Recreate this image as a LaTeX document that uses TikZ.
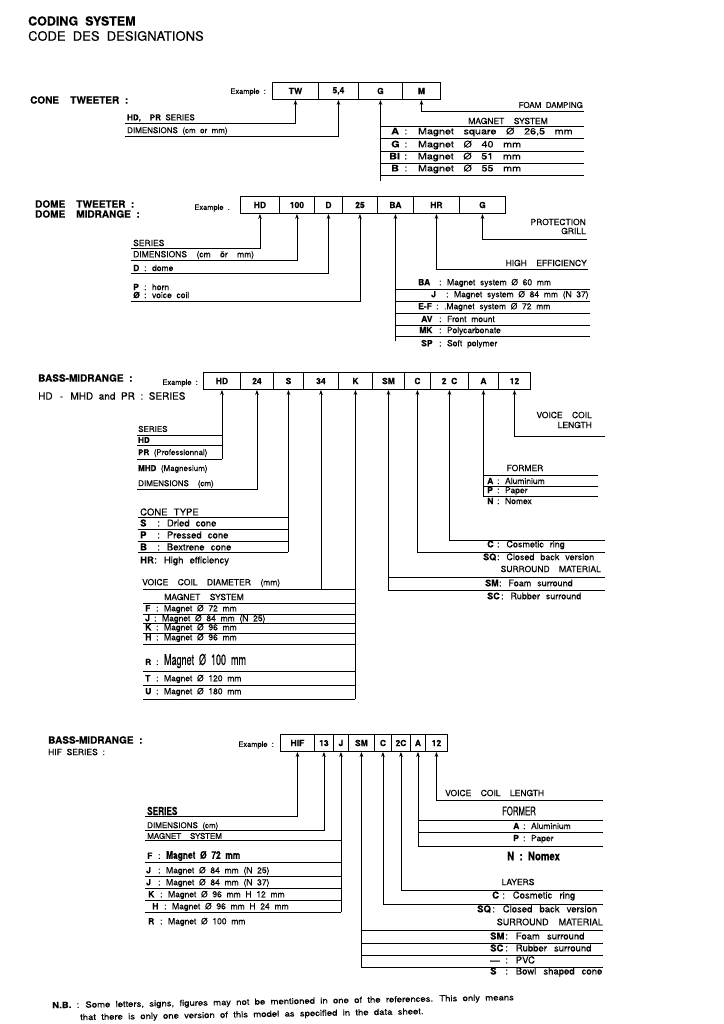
\documentclass[tikz,border=0pt]{standalone}
\usepackage{fontspec}
\setmainfont{TeX Gyre Heros}[WordSpace=2,FakeBold=0.3]
\usetikzlibrary{arrows.meta}
\newcommand{\cb}[1]{\textbf{#1}}
\newcommand{\cnd}[2][0.6]{\scalebox{#1}[1]{#2}}
\newcommand{\rw}[3][12pt]{\makebox[#1][l]{\cb{#2}}: #3}
\newcommand{\wde}[2][1.2]{\scalebox{#1}[1]{#2}}
\begin{document}
\begin{tikzpicture}[x=1pt,y=-1pt,
 every node/.style={inner sep=0pt},
 lbl/.style={anchor=west,font=\fontsize{8.5}{9}\selectfont},
 lblr/.style={anchor=east,font=\fontsize{8.5}{9}\selectfont},
 ctab/.style={anchor=west,font=\fontsize{9}{10}\selectfont,execute at begin node={\spaceskip=8pt\relax}},
 dtab/.style={anchor=west,font=\fontsize{8.5}{9}\selectfont,execute at begin node={\spaceskip=4.7pt\relax}},
 btab/.style={anchor=west,font=\fontsize{9.5}{10}\selectfont,execute at begin node={\spaceskip=6.2pt\relax}},
 stab/.style={anchor=west,font=\fontsize{9}{10}\selectfont,execute at begin node={\spaceskip=5.9pt\relax}},
 rtab/.style={anchor=west,font=\fontsize{9.5}{10}\selectfont,execute at begin node={\spaceskip=7.1pt\relax}},
 hdg/.style={anchor=west,font=\bfseries\fontsize{10}{11}\selectfont},
 sub/.style={anchor=west,font=\fontsize{10}{11}\selectfont},
 ttl/.style={anchor=west,font=\fontsize{13}{13}\selectfont},
 ex/.style={anchor=east,font=\fontsize{7.5}{8}\selectfont},
 bx/.style={draw,line width=0.9pt,anchor=west,minimum height=17pt,font=\bfseries\fontsize{8.5}{9}\selectfont},
 ar/.style={line width=0.75pt,-{Stealth[length=5pt,width=3.6pt]}},
 rl/.style={line width=0.75pt}]
\fill[white] (0,0) rectangle (723,1024);
\useasboundingbox (0,0) rectangle (723,1024);

% ===== TITLE
\node[ttl,font=\bfseries\fontsize{12.5}{13}\selectfont] (t1) at (28,21) {CODING SYSTEM};
\node[ttl] (t2) at (28,36) {CODE DES DESIGNATIONS};

% ===== CONE TWEETER
\node[hdg] (ct) at (30,100) {CONE \ TWEETER :};
\node[ex] (ctex) at (266,92) {Example :};
\node[bx,minimum width=46pt] (tw) at (272,91) {TW};
\node[bx,minimum width=40pt] (c54) at (318,91) {5,4};
\node[bx,minimum width=44pt] (cg) at (358,91) {G};
\node[bx,minimum width=38pt] (cm) at (402,91) {M};
\node[lbl,font=\fontsize{8}{9}\selectfont] (hdpr) at (127,118) {\cb{HD, \ PR} SERIES};
\node[lbl,font=\fontsize{8}{9}\selectfont] (cdim) at (127,131) {DIMENSIONS (cm or mm)};
\coordinate (ka) at (125,123);
\coordinate (kb) at (125,136);
\draw[ar] (ka) -| (tw.south);
\draw[ar] (kb) -| (c54.south);
\node[lblr,font=\fontsize{8}{9}\selectfont] (foam) at (583,105) {FOAM DAMPING};
\coordinate (kc) at (584,111);
\draw[ar] (kc) -| (cm.south);
\node[lbl,anchor=center] (cms) at (508,121) {MAGNET \ SYSTEM};
\node[ctab] (ca) at (391,132) {\wde{\rw[11pt]{A}{Magnet square Ø 26,5 mm}}};
\node[ctab] (cgg) at (391,145) {\wde{\rw[11pt]{G}{Magnet Ø 40 mm}}};
\node[ctab] (cbi) at (389,157) {\wde{\rw[12.5pt]{BI}{Magnet Ø 51 mm}}};
\node[ctab] (cbb) at (391,169) {\wde{\rw[11pt]{B}{Magnet Ø 55 mm}}};
\coordinate (kd) at (cg.south |- 0,181);
\draw[ar] (kd) -- (cg.south);
\foreach \yy in {126,138,151,163,175} \draw[rl] (cg.south |- 0,\yy) -- (584,\yy);

% ===== DOME
\node[hdg] (dt) at (35,204) {DOME \ TWEETER :};
\node[hdg] (dm) at (35,214) {DOME \ MIDRANGE :};
\node[ex] (dex) at (230,208) {Example .};
\node[bx,minimum width=39pt] (dhd) at (240,205) {HD};
\node[bx,minimum width=35pt] (d100) at (279,205) {100};
\node[bx,minimum width=28pt] (dd) at (314,205) {D};
\node[bx,minimum width=35pt] (d25) at (342,205) {25};
\node[bx,minimum width=36pt] (dba) at (377,205) {BA};
\node[bx,minimum width=46pt] (dhr) at (413,205) {HR};
\node[bx,minimum width=46pt] (dg) at (459,205) {G};
\node[lbl] (dser) at (133,243) {SERIES};
\node[lbl] (ddim) at (133,255) {DIMENSIONS \ (cm \ ör \ mm)};
\node[lbl] (ddome) at (133,268) {\rw[11pt]{D}{dome}};
\node[lbl] (dhorn) at (133,287) {\rw[11pt]{P}{horn}};
\node[lbl] (dvc) at (133,295) {\rw[11pt]{Ø}{voice coil}};
\coordinate (da) at (131,248);
\coordinate (db) at (131,260);
\coordinate (dc) at (131,273);
\coordinate (dd2) at (131,301);
\draw[ar] (da) -| (dhd.south);
\draw[ar] (db) -| (d100.south);
\draw[ar] (dc) -| (dd.south);
\draw[ar] (dd2) -| (d25.south);
\node[lblr] (dprot) at (586,222) {PROTECTION};
\node[lblr] (dgrill) at (586,231) {GRILL};
\coordinate (de) at (587,239);
\draw[ar] (de) -| (dg.south);
\node[lblr] (dhe) at (587,263) {HIGH \ EFFICIENCY};
\coordinate (df) at (588,269);
\draw[ar] (df) -| (dhr.south);
\coordinate (dgv) at (dba.south |- 0,341);
\draw[ar] (dgv) -- (dba.south);
\foreach \yy in {289,301,313,325,336} \draw[rl] (dba.south |- 0,\yy) -- (590,\yy);
\node[dtab] (dr1) at (418,283) {\rw[21pt]{BA}{Magnet system Ø 60 mm}};
\node[dtab] (dr2) at (431,295) {\rw[15pt]{J}{Magnet system Ø 84 mm (N 37)}};
\node[dtab] (dr3) at (418,307) {\rw[18pt]{E-F}{.Magnet system Ø 72 mm}};
\node[dtab] (dr4) at (421,319) {\rw[18pt]{AV}{Front mount}};
\node[dtab] (dr5) at (419,331) {\rw[20pt]{MK}{Polycarbonate}};
\node[dtab] (dr6) at (421,344) {\rw[18pt]{SP}{Soft polymer}};

% ===== BASS-MIDRANGE HD
\node[hdg] (bm) at (38,378) {BASS-MIDRANGE :};
\node[sub] (bms) at (38,396) {HD \,- \,MHD and PR : SERIES};
\node[ex] (bex) at (198,383) {Example :};
\node[bx,minimum width=37pt] (bhd) at (203,381) {HD};
\node[bx,minimum width=33pt] (b24) at (240,381) {24};
\node[bx,minimum width=30pt] (bs) at (273,381) {S};
\node[bx,minimum width=35pt] (b34) at (303,381) {34};
\node[bx,minimum width=34pt] (bk) at (338,381) {K};
\node[bx,minimum width=32pt] (bsm) at (372,381) {SM};
\node[bx,minimum width=26pt] (bc) at (404,381) {C};
\node[bx,minimum width=38pt] (b2c) at (430,381) {2 C};
\node[bx,minimum width=30pt] (ba) at (468,381) {A};
\node[bx,minimum width=32pt] (b12) at (498,381) {12};
% voice coil length
\node[lblr] (bvc1) at (592,415) {VOICE \ COIL};
\node[lblr] (bvc2) at (592,425) {LENGTH};
\coordinate (bq) at (605,436);
\draw[ar] (bq) -| (b12.south);
% series
\node[lbl,font=\fontsize{8}{9}\selectfont] (bser) at (138,429) {SERIES};
\node[lbl,font=\fontsize{8}{9}\selectfont] (bhdl) at (138,440) {\cb{HD}};
\node[lbl,font=\fontsize{8}{9}\selectfont] (bpr) at (138,453) {\cb{PR} (Professionnal)};
\node[lbl,font=\fontsize{8}{9}\selectfont] (bmhd) at (138,469) {\cb{MHD} (Magnesium)};
\node[lbl,font=\fontsize{8}{9}\selectfont] (bdim) at (138,484) {DIMENSIONS \ (cm)};
\coordinate (b1) at (bhd.south |- 0,459);
\draw[ar] (b1) -- (bhd.south);
\foreach \yy in {435,445,459} \draw[rl] (137,\yy) -- (bhd.south |- 0,\yy);
\coordinate (b2) at (137,489);
\draw[ar] (b2) -| (b24.south);
% cone type
\node[btab] (bct) at (140,512) {CONE TYPE};
\node[btab] (bct1) at (140,523) {\rw[17pt]{S}{Dried cone}};
\node[btab] (bct2) at (140,535) {\rw[17pt]{P}{Pressed cone}};
\node[btab] (bct3) at (140,547) {\rw[17pt]{B}{Bextrene cone}};
\node[btab] (bct4) at (140,561) {\rw[14pt]{HR}{High efficiency}};
\coordinate (b3) at (bs.south |- 0,552);
\draw[ar] (b3) -- (bs.south);
\foreach \yy in {517,529,541,552} \draw[rl] (138,\yy) -- (bs.south |- 0,\yy);
% voice coil diameter
\node[lbl] (bvcd) at (142,583) {VOICE \ COIL \ DIAMETER \ (mm)};
\coordinate (b4) at (b34.south |- 0,589);
\draw[ar] (b4) -- (b34.south);
\node[lbl,anchor=center] (bmag) at (204,597) {MAGNET \ SYSTEM};
\node[lbl] (bm1) at (145,609) {\rw[11pt]{F}{Magnet Ø 72 mm}};
\node[lbl] (bm2) at (145,619) {\rw[9pt]{J}{Magnet Ø 84 mm (N 25)}};
\node[lbl] (bm3) at (145,628) {\rw[11pt]{K}{Magnet Ø 96 mm}};
\node[lbl] (bm4) at (145,638) {\rw[11pt]{H}{Magnet Ø 96 mm}};
\node[lbl] (bm5) at (145,661) {\rw[11pt]{R}{\cnd[0.6]{\fontsize{15}{15}\selectfont Magnet Ø 100 mm}}};
\node[lbl] (bm6) at (145,679) {\rw[11pt]{T}{Magnet Ø 120 mm}};
\node[lbl] (bm7) at (145,692) {\rw[11pt]{U}{Magnet Ø 180 mm}};
\coordinate (b5) at (bk.south |- 0,699);
\draw[ar] (b5) -- (bk.south);
\foreach \yy in {589,603,614,623,633,644,671,685,699} \draw[rl] (143,\yy) -- (bk.south |- 0,\yy);
% surround material
\coordinate (b6) at (bsm.south |- 0,590);
\draw[ar] (b6) -- (bsm.south);
\foreach \yy in {577,590} \draw[rl] (bsm.south |- 0,\yy) -- (605,\yy);
\node[lblr] (bsur) at (601,569) {SURROUND \ MATERIAL};
\node[stab] (bsm1) at (485,583) {\rw[14pt]{SM}{Foam surround}};
\node[stab] (bsm2) at (487,596) {\rw[14pt]{SC}{Rubber surround}};
% C / SQ
\coordinate (b7) at (605,552);
\draw[ar] (b7) -| (bc.south);
\node[stab] (bsq) at (483,557) {\rw[14pt]{SQ}{Closed back version}};
\coordinate (b8) at (605,540);
\draw[ar] (b8) -| (b2c.south);
\node[stab] (bcr) at (487,545) {\rw[10pt]{C}{Cosmetic ring}};
% former
\node[lbl,anchor=center] (bfor) at (525,468) {FORMER};
\coordinate (b9) at (ba.south |- 0,496);
\draw[ar] (b9) -- (ba.south);
\foreach \yy in {475,486,496} \draw[rl] (ba.south |- 0,\yy) -- (598,\yy);
\node[lbl] (bf1) at (487,481) {\rw[10pt]{A}{Aluminium}};
\node[lbl] (bf2) at (487,491) {\rw[10pt]{P}{Paper}};
\node[lbl] (bf3) at (487,501) {\rw[10pt]{N}{Nomex}};

% ===== BASS-MIDRANGE HIF
\node[hdg] (hm) at (48,740) {BASS-MIDRANGE :};
\node[sub,font=\fontsize{8.5}{9}\selectfont] (hms) at (48,752) {HIF SERIES :};
\node[ex] (hex) at (274,745) {Example :};
\node[bx,minimum width=34pt] (hhif) at (280,743) {HIF};
\node[bx,minimum width=19pt] (h13) at (314,743) {13};
\node[bx,minimum width=15pt] (hj) at (333,743) {J};
\node[bx,minimum width=26pt] (hsm) at (348,743) {SM};
\node[bx,minimum width=17pt] (hc) at (374,743) {C};
\node[bx,minimum width=19pt] (h2c) at (391,743) {2C};
\node[bx,minimum width=15pt] (ha) at (410,743) {A};
\node[bx,minimum width=22pt] (h12) at (425,743) {12};
% left side
\node[lbl] (hser) at (147,811) {\cnd[0.75]{\bfseries\fontsize{11}{11}\selectfont SERIES}};
\coordinate (h1) at (145,816);
\draw[ar] (h1) -| (hhif.south);
\node[lbl,font=\fontsize{8}{9}\selectfont] (hdim) at (147,826) {DIMENSIONS (cm)};
\coordinate (h2) at (145,830);
\draw[ar] (h2) -| (h13.south);
\node[lbl,font=\fontsize{8}{9}\selectfont] (hmag) at (147,836) {MAGNET \ SYSTEM};
\coordinate (h3) at (hj.south |- 0,912);
\draw[ar] (h3) -- (hj.south);
\foreach \yy in {840,862,876,888,900,912} \draw[rl] (145,\yy) -- (hj.south |- 0,\yy);
\node[lbl] (hm1) at (147,856) {\rw[11pt]{F}{\cnd[0.8]{\bfseries\fontsize{10.5}{11}\selectfont Magnet Ø 72 mm}}};
\node[lbl] (hm2) at (146,871) {\rw[12pt]{J}{Magnet Ø 84 mm (N 25)}};
\node[lbl] (hm3) at (146,883) {\rw[12pt]{J}{Magnet Ø 84 mm (N 37)}};
\node[lbl] (hm4) at (148,895) {\rw[12pt]{K}{Magnet Ø 96 mm H 12 mm}};
\node[lbl] (hm5) at (152,907) {\rw[12pt]{H}{Magnet Ø 96 mm H 24 mm}};
\node[lbl] (hm6) at (148,922) {\rw[12pt]{R}{Magnet Ø 100 mm}};
% right side
\node[lbl] (hvcl) at (445,793) {VOICE \ COIL \ LENGTH};
\coordinate (h4) at (603,800);
\draw[ar] (h4) -| (h12.south);
\node[lbl,anchor=center] (hfor) at (519,811) {\cnd[0.65]{\fontsize{12}{12}\selectfont FORMER}};
\coordinate (h5) at (ha.south |- 0,846);
\draw[ar] (h5) -- (ha.south);
\foreach \yy in {820,832,846} \draw[rl] (ha.south |- 0,\yy) -- (603,\yy);
\node[lbl] (hf1) at (513,826) {\rw[10pt]{A}{Aluminium}};
\node[lbl] (hf2) at (513,839) {\rw[10pt]{P}{Paper}};
\node[lbl] (hf3) at (507,856) {\cnd[0.8]{\bfseries\fontsize{12}{12}\selectfont N : Nomex}};
\node[lbl,anchor=center] (hlay) at (518,882) {LAYERS};
\coordinate (h6) at (603,890);
\draw[ar] (h6) -| (h2c.south);
\node[rtab] (hcr) at (492,896) {\rw[10pt]{C}{Cosmetic ring}};
\node[rtab] (hsq) at (477,909) {\rw[15pt]{SQ}{Closed back version}};
\node[lblr,font=\fontsize{9}{10}\selectfont] (hsur) at (603,922) {SURROUND \ MATERIAL};
\node[rtab] (hs1) at (490,936) {\rw[15pt]{SM}{Foam surround}};
\node[rtab] (hs2) at (490,948) {\rw[15pt]{SC}{Rubber surround}};
\node[rtab] (hs3) at (490,960) {\rw[15pt]{—}{PVC}};
\node[rtab] (hs4) at (490,972) {\rw[15pt]{S}{Bowl shaped cone}};
\coordinate (h7) at (603,904);
\draw[ar] (h7) -| (hc.south);
\coordinate (h8) at (hsm.south |- 0,967);
\draw[ar] (h8) -- (hsm.south);
\foreach \yy in {930,943,955,967} \draw[rl] (hsm.south |- 0,\yy) -- (603,\yy);

% ===== FOOTER
\node[lbl,rotate=1,font=\fontsize{8.5}{9}\selectfont] (nb1) at (52,1006) {\wde[1.12]{\cb{N.B.} : Some letters, signs, figures may not be mentioned in one of the references. This only means}};
\node[lbl,rotate=1,font=\fontsize{8.5}{9}\selectfont] (nb2) at (80,1018) {\wde[1.12]{that there is only one version of this model as specified in the data sheet.}};
\end{tikzpicture}
\end{document}
